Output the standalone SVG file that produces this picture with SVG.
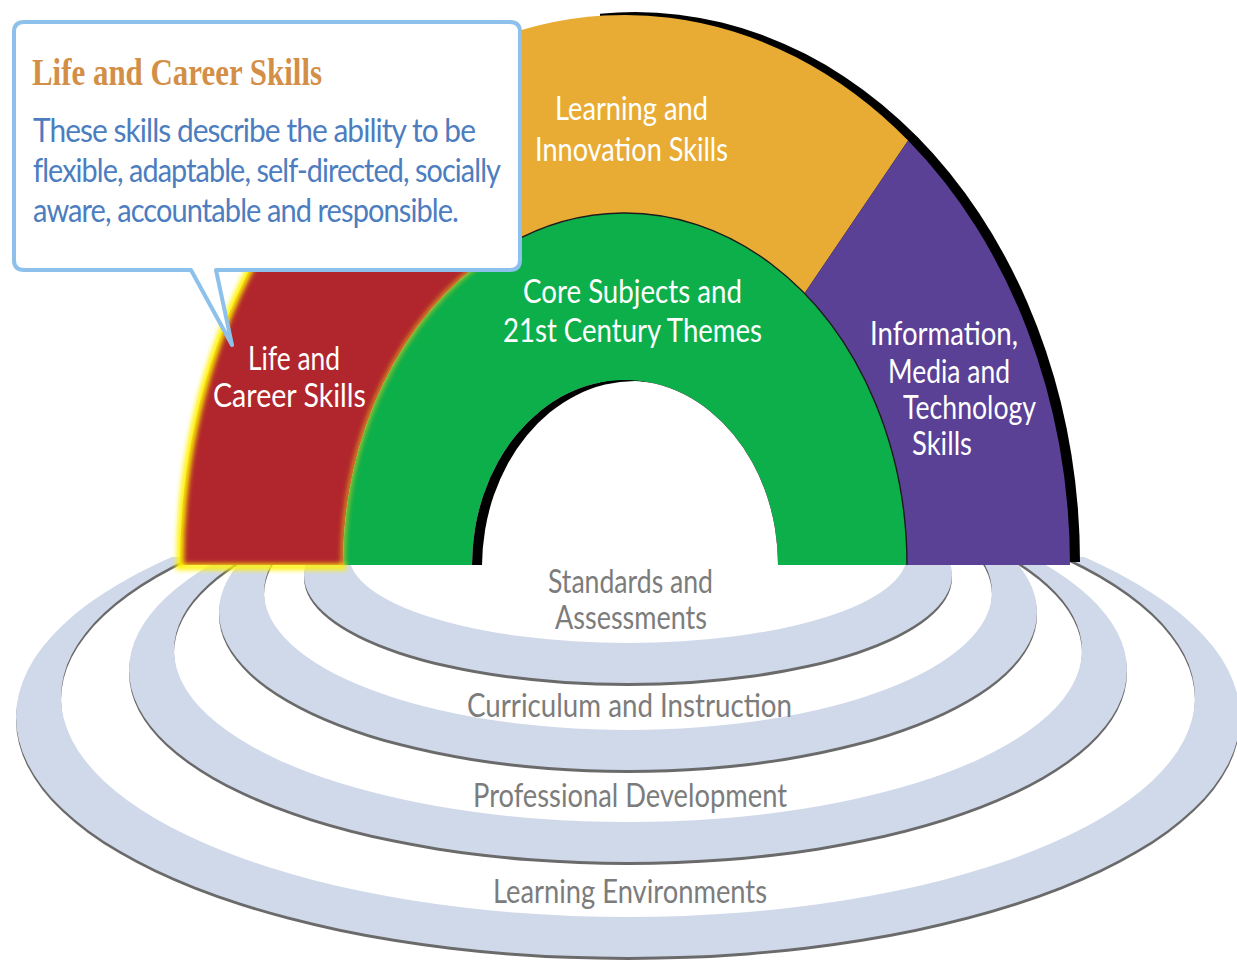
<svg xmlns="http://www.w3.org/2000/svg" xmlns:xlink="http://www.w3.org/1999/xlink" width="1237" height="964" viewBox="0 0 1237 964">
<style>
.lbl{font-family:Lato,"Open Sans","Liberation Sans",sans-serif;font-size:32px;fill:#ffffff}
.rl{font-family:Lato,"Open Sans","Liberation Sans",sans-serif;font-size:32px;fill:#7c7c7c}
.body{font-family:Lato,"Open Sans","Liberation Sans",sans-serif;font-size:32px;letter-spacing:-1px;fill:#4c7dbf}
.title{font-family:"Liberation Serif",serif;font-weight:bold;font-size:37px;fill:#d38f47}
.band{fill:#d0d9ea;fill-rule:evenodd}
.shadow{fill:#6a6a6a;fill-rule:evenodd;filter:url(#soft)}
</style>
<defs>
<filter id="soft" x="-5%" y="-5%" width="110%" height="110%"><feGaussianBlur stdDeviation="0.35"/></filter>
<filter id="glow" x="-50%" y="-50%" width="200%" height="200%"><feGaussianBlur stdDeviation="2.5"/></filter>
<clipPath id="below"><rect x="0" y="557" width="1237" height="407"/></clipPath>
<clipPath id="rightside"><rect x="600" y="0" width="637" height="565"/></clipPath>
<clipPath id="holeclip"><path d="M472,565 A153,185 0 0 1 778,565 Z"/></clipPath>
<path id="r1" d="M304,575 a324,108 0 1 0 648,0 a324,108 0 1 0 -648,0 Z M349,555 a279,88 0 1 0 558,0 a279,88 0 1 0 -558,0 Z"/>
<path id="r2" d="M219,612 a409,158 0 1 0 818,0 a409,158 0 1 0 -818,0 Z M264,592 a364,138 0 1 0 728,0 a364,138 0 1 0 -728,0 Z"/>
<path id="r3" d="M129,670 a499,192 0 1 0 998,0 a499,192 0 1 0 -998,0 Z M174,650 a454,172 0 1 0 908,0 a454,172 0 1 0 -908,0 Z"/>
<path id="r4" d="M16,717 a612,240 0 1 0 1224,0 a612,240 0 1 0 -1224,0 Z M61,697 a567,220 0 1 0 1134,0 a567,220 0 1 0 -1134,0 Z"/>
</defs>
<rect width="1237" height="964" fill="#ffffff"/>

<g id="rings" clip-path="url(#below)">
  <g id="learning-environments">
    <use xlink:href="#r4" href="#r4" class="shadow" transform="translate(0,3)"/>
    <use xlink:href="#r4" href="#r4" class="band"/>
  </g>
  <g id="professional-development">
    <use xlink:href="#r3" href="#r3" class="shadow" transform="translate(0,3)"/>
    <use xlink:href="#r3" href="#r3" class="band"/>
  </g>
  <g id="curriculum-instruction">
    <use xlink:href="#r2" href="#r2" class="shadow" transform="translate(0,3)"/>
    <use xlink:href="#r2" href="#r2" class="band"/>
  </g>
  <g id="standards-assessments">
    <use xlink:href="#r1" href="#r1" class="shadow" transform="translate(0,3)"/>
    <use xlink:href="#r1" href="#r1" class="band"/>
  </g>
</g>
<g id="ring-labels">
  <text class="rl" x="548" y="593" textLength="165" lengthAdjust="spacingAndGlyphs">Standards and</text>
  <text class="rl" x="555" y="629" textLength="152" lengthAdjust="spacingAndGlyphs">Assessments</text>
  <text class="rl" x="467" y="717" textLength="325" lengthAdjust="spacingAndGlyphs">Curriculum and Instruction</text>
  <text class="rl" x="473" y="807" textLength="314" lengthAdjust="spacingAndGlyphs">Professional Development</text>
  <text class="rl" x="493" y="903" textLength="274" lengthAdjust="spacingAndGlyphs">Learning Environments</text>
</g>

<g id="rainbow-shadow" clip-path="url(#rightside)">
  <path d="M180,565 A445,550 0 0 1 1070,565 Z" fill="#000000" transform="translate(10,-3)"/>
</g>

<g id="life-career">
  <path d="M180,565 A445,550 0 0 1 416.1,79.4 L492.6,254.2 A282,352 0 0 0 343,565 Z" fill="#b1262c"/>
</g>
<g id="learning-innovation">
  <path d="M416.1,79.4 A445,550 0 0 1 908.1,140.6 L804.4,293.4 A282,352 0 0 0 492.6,254.2 Z" fill="#e8ac34"/>
  <text class="lbl" x="555" y="120" textLength="153" lengthAdjust="spacingAndGlyphs">Learning and</text>
  <text class="lbl" x="535" y="161" textLength="193" lengthAdjust="spacingAndGlyphs">Innovation Skills</text>
</g>
<g id="information-media">
  <path d="M908.1,140.6 A445,550 0 0 1 1070,565 L907,565 A282,352 0 0 0 804.4,293.4 Z" fill="#5a4196"/>
  <text class="lbl" x="870" y="345" textLength="148" lengthAdjust="spacingAndGlyphs">Information,</text>
  <text class="lbl" x="888" y="383" textLength="122" lengthAdjust="spacingAndGlyphs">Media and</text>
  <text class="lbl" x="903" y="419" textLength="133" lengthAdjust="spacingAndGlyphs">Technology</text>
  <text class="lbl" x="912" y="455" textLength="60" lengthAdjust="spacingAndGlyphs">Skills</text>
</g>
<g id="core-subjects">
  <path d="M343,565 A282,352 0 0 1 907,565 L778,565 A153,185 0 0 0 472,565 Z" fill="#0daf4b"/>
  <path d="M907,565 A282,352 0 0 0 492.6,254.2" fill="none" stroke="#1c1c1c" stroke-width="1.4"/>
  <g clip-path="url(#holeclip)">
    <rect x="460" y="370" width="330" height="200" fill="#000000"/>
    <ellipse cx="635" cy="567" rx="153" ry="186" fill="#ffffff"/>
  </g>
  <text class="lbl" x="523" y="303" textLength="219" lengthAdjust="spacingAndGlyphs">Core Subjects and</text>
  <text class="lbl" x="503" y="342" textLength="259" lengthAdjust="spacingAndGlyphs">21st Century Themes</text>
</g>

<g id="glow" filter="url(#glow)" fill="none">
  <path d="M180,565 A445,550 0 0 1 284.1,211.5" stroke="#fff200" stroke-width="7"/>
  <path d="M176,567 H346" stroke="#fff200" stroke-width="6"/>
  <path d="M343,565 A282,352 0 0 1 492.6,254.2" stroke="#e9c81e" stroke-width="3"/>
</g>
<g id="life-career-label">
  <text class="lbl" x="248" y="370" textLength="92" lengthAdjust="spacingAndGlyphs">Life and</text>
  <text class="lbl" x="213" y="407" textLength="153" lengthAdjust="spacingAndGlyphs">Career Skills</text>
</g>

<g id="callout">
  <path d="M24,22 H510 Q520,22 520,32 V260 Q520,270 510,270 H216 L232,345 L191,270 H24 Q14,270 14,260 V32 Q14,22 24,22 Z" fill="#ffffff" stroke="#8dc0ea" stroke-width="4" stroke-linejoin="round"/>
  <text class="title" x="32" y="85" textLength="290" lengthAdjust="spacingAndGlyphs">Life and Career Skills</text>
  <text class="body" x="33" y="142" textLength="442" lengthAdjust="spacingAndGlyphs">These skills describe the ability to be</text>
  <text class="body" x="33" y="182" textLength="467" lengthAdjust="spacingAndGlyphs">flexible, adaptable, self-directed, socially</text>
  <text class="body" x="33" y="222" textLength="425" lengthAdjust="spacingAndGlyphs">aware, accountable and responsible.</text>
</g>
<g id="connectors"/>
</svg>
